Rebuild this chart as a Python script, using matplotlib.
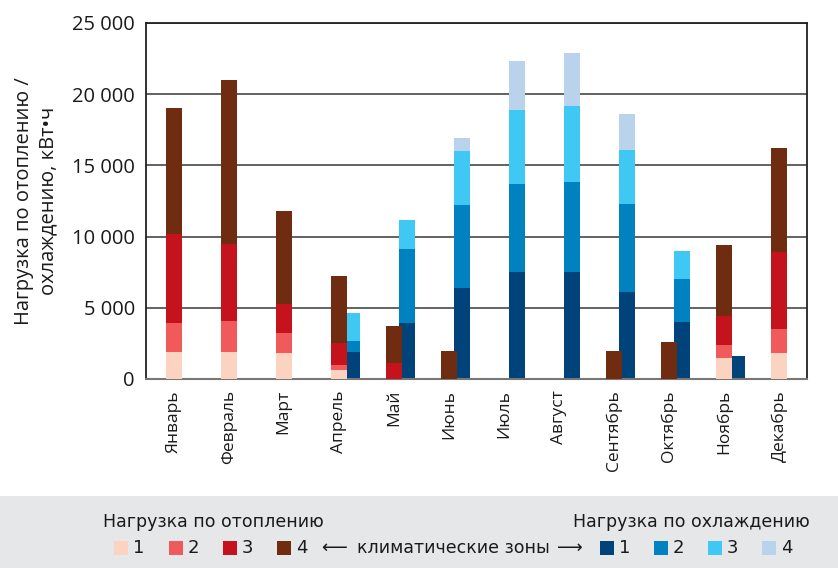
import numpy as np
import matplotlib
matplotlib.use("Agg")
import matplotlib.pyplot as plt
from matplotlib.patches import Rectangle
from matplotlib.ticker import FuncFormatter

plt.rcParams['font.family'] = ['Open Sans', 'DejaVu Sans']

months = ['Январь', 'Февраль', 'Март', 'Апрель', 'Май', 'Июнь',
          'Июль', 'Август', 'Сентябрь', 'Октябрь', 'Ноябрь', 'Декабрь']

# heating load per climate zone (stacked segments), kWh
heat_z1 = [1900, 1900, 1800, 600, 0, 0, 0, 0, 0, 0, 1500, 1800]
heat_z2 = [2000, 2200, 1400, 400, 0, 0, 0, 0, 0, 0, 900, 1700]
heat_z3 = [6300, 5400, 2100, 1500, 1100, 0, 0, 0, 0, 0, 2000, 5400]
heat_z4 = [8800, 11500, 6500, 4700, 2600, 2000, 0, 0, 2000, 2600, 5000, 7300]

# cooling load per climate zone (stacked segments), kWh
cool_z1 = [0, 0, 0, 1900, 3900, 6400, 7500, 7500, 6100, 4000, 1600, 0]
cool_z2 = [0, 0, 0, 800, 5200, 5800, 6200, 6300, 6200, 3000, 0, 0]
cool_z3 = [0, 0, 0, 1900, 2100, 3800, 5200, 5400, 3800, 2000, 0, 0]
cool_z4 = [0, 0, 0, 0, 0, 900, 3400, 3700, 2500, 0, 0, 0]

heat_colors = ['#FCD3C1', '#F05A5B', '#C4131C', '#6F2C11']
cool_colors = ['#00427A', '#0082C0', '#40C8F4', '#B8D3EB']
zone_labels = ['1', '2', '3', '4']

fig = plt.figure(figsize=(8.38, 5.68), dpi=100)
ax = fig.add_axes([146 / 838, 1 - 379 / 568, 661 / 838, 356 / 568])

x = np.arange(len(months))
w = 0.29
off = 0.235

bottom = np.zeros(len(months))
for vals, c in zip([cool_z1, cool_z2, cool_z3, cool_z4], cool_colors):
    ax.bar(x + off, vals, w, bottom=bottom, color=c, zorder=2, linewidth=0)
    bottom += np.array(vals)

bottom = np.zeros(len(months))
for vals, c in zip([heat_z1, heat_z2, heat_z3, heat_z4], heat_colors):
    ax.bar(x, vals, w, bottom=bottom, color=c, zorder=3, linewidth=0)
    bottom += np.array(vals)

ax.set_xlim(-0.5, 11.5)
ax.set_ylim(0, 25000)
ax.set_yticks(np.arange(0, 25001, 5000))
ax.yaxis.set_major_formatter(FuncFormatter(lambda v, p: f'{int(v):,}'.replace(',', ' ')))
ax.set_xticks(x)
ax.set_xticklabels(months, rotation=90, fontsize=12.5, color='#1a1a1a')
ax.tick_params(axis='both', length=0)
ax.tick_params(axis='y', labelsize=14.5, pad=8, labelcolor='#1a1a1a')
ax.tick_params(axis='x', pad=8)
ax.grid(axis='y', color='#555555', linewidth=1.3, zorder=1)

for s in ['left', 'top', 'right']:
    ax.spines[s].set_color('#222222')
    ax.spines[s].set_linewidth(1.3)
ax.spines['bottom'].set_color('#777777')
ax.spines['bottom'].set_linewidth(1.5)

ax.set_ylabel('Нагрузка по отоплению /\nохлаждению, кВт•ч', fontsize=14.5,
              color='#1a1a1a', labelpad=10, linespacing=1.25)

# legend panel
fig.patches.append(Rectangle((0, 0), 1, 72 / 568, transform=fig.transFigure,
                             facecolor='#E6E7E9', edgecolor='none', zorder=0))

leg_font = ['Liberation Sans Narrow', 'DejaVu Sans']
fig.text(103 / 838, 1 - 522 / 568, 'Нагрузка по отоплению', fontsize=12.5,
         family=leg_font, va='center', ha='left', color='#1a1a1a')
fig.text(810 / 838, 1 - 522 / 568, 'Нагрузка по охлаждению', fontsize=12.5,
         family=leg_font, va='center', ha='right', color='#1a1a1a')

row_y = 548
heat_sq_x = [114, 169, 223, 277]
cool_sq_x = [600, 654, 708, 762]
for sx_list, cols in [(heat_sq_x, heat_colors), (cool_sq_x, cool_colors)]:
    for sx, c, lab in zip(sx_list, cols, zone_labels):
        fig.patches.append(Rectangle((sx / 838, 1 - (row_y + 7) / 568), 14 / 838, 14 / 568,
                                     transform=fig.transFigure, facecolor=c,
                                     edgecolor='none'))
        fig.text((sx + 19) / 838, 1 - row_y / 568, lab, fontsize=13, family=leg_font,
                 va='center', ha='left', color='#1a1a1a')

fig.text(334 / 838, 1 - row_y / 568, '⟵', fontsize=13, family=['DejaVu Sans'],
         va='center', ha='center', color='#1a1a1a')
fig.text(453 / 838, 1 - row_y / 568, 'климатические зоны', fontsize=12.5,
         family=leg_font, va='center', ha='center', color='#1a1a1a')
fig.text(570 / 838, 1 - row_y / 568, '⟶', fontsize=13, family=['DejaVu Sans'],
         va='center', ha='center', color='#1a1a1a')

fig.savefig('out.png', dpi=100)
